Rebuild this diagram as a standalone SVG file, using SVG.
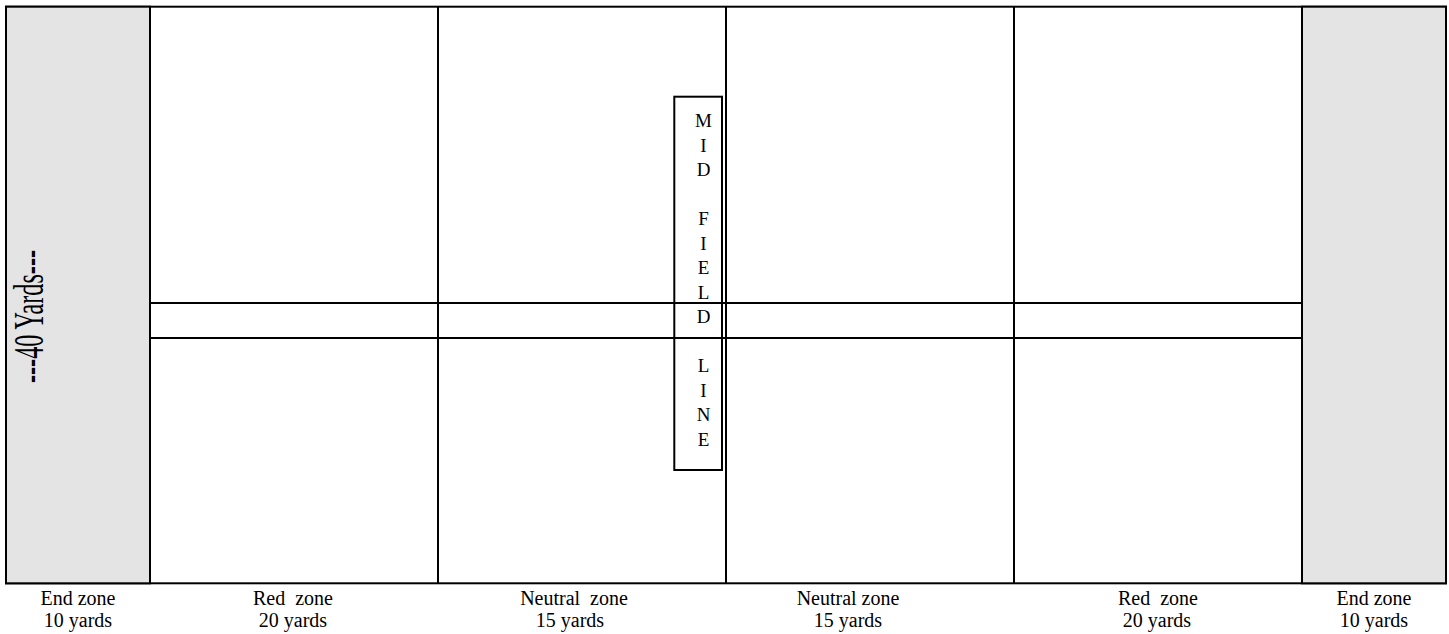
<svg xmlns="http://www.w3.org/2000/svg" width="1449" height="634" viewBox="0 0 1449 634">
<style>
.ln{stroke:#000;stroke-width:2;fill:none}
.ez{fill:#e4e4e4;stroke:#000;stroke-width:2}
.t{font-family:"Times New Roman",Tinos,"Liberation Serif","DejaVu Serif",serif;font-size:20px;fill:#000;text-anchor:middle}
.v{font-family:"Times New Roman",Tinos,"Liberation Serif","DejaVu Serif",serif;font-size:19px;fill:#000;text-anchor:middle}
.big{font-family:"Times New Roman",Tinos,"Liberation Serif","DejaVu Serif",serif;font-size:42px;fill:#000;text-anchor:middle}
</style>
<rect width="1449" height="634" fill="#fff"/>
<g id="field">
<rect x="6" y="6.7" width="1440" height="576.6" fill="#fff" class="ln"/>
</g>
<g id="endzone-left">
<rect x="6" y="6.7" width="144" height="576.6" class="ez"/>
<text class="big" transform="translate(43,316.5) rotate(-90)" x="0" y="0" textLength="133" lengthAdjust="spacingAndGlyphs">---40 Yards---</text>
</g>
<g id="endzone-right">
<rect x="1302" y="6.7" width="144" height="576.6" class="ez"/>
</g>
<g id="connectors">
<line x1="438" y1="6.7" x2="438" y2="583.3" class="ln"/>
<line x1="726" y1="6.7" x2="726" y2="583.3" class="ln"/>
<line x1="1014" y1="6.7" x2="1014" y2="583.3" class="ln"/>
<line x1="150" y1="303" x2="1302" y2="303" class="ln"/>
<line x1="150" y1="338" x2="1302" y2="338" class="ln"/>
</g>
<g id="midfield">
<rect x="674.3" y="96.7" width="47.7" height="373.3" fill="#fff" class="ln"/>
<text class="v" x="703.5" y="127">M</text>
<text class="v" x="703.5" y="151.5">I</text>
<text class="v" x="703.5" y="176">D</text>
<text class="v" x="703.5" y="225">F</text>
<text class="v" x="703.5" y="249.5">I</text>
<text class="v" x="703.5" y="274">E</text>
<text class="v" x="703.5" y="298.5">L</text>
<text class="v" x="703.5" y="323">D</text>
<text class="v" x="703.5" y="372">L</text>
<text class="v" x="703.5" y="396.5">I</text>
<text class="v" x="703.5" y="421">N</text>
<text class="v" x="703.5" y="445.5">E</text>
</g>
<g id="labels" xml:space="preserve">
<text class="t" x="78" y="605">End zone</text>
<text class="t" x="78" y="627">10 yards</text>
<text class="t" x="293" y="605" style="white-space:pre">Red  zone</text>
<text class="t" x="293" y="627">20 yards</text>
<text class="t" x="574" y="605" style="white-space:pre">Neutral  zone</text>
<text class="t" x="570" y="627">15 yards</text>
<text class="t" x="848" y="605">Neutral zone</text>
<text class="t" x="848" y="627">15 yards</text>
<text class="t" x="1158" y="605" style="white-space:pre">Red  zone</text>
<text class="t" x="1157" y="627">20 yards</text>
<text class="t" x="1374" y="605">End zone</text>
<text class="t" x="1374" y="627">10 yards</text>
</g>
</svg>
